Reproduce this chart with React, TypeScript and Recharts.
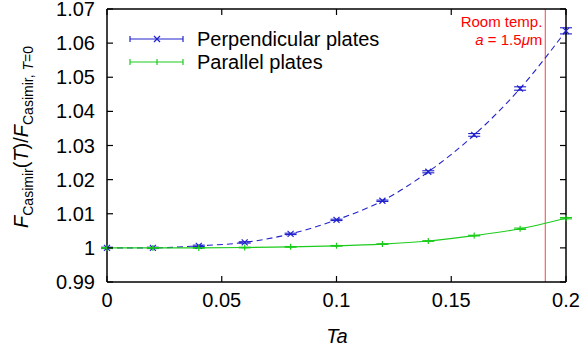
import React from 'react';
import {
  LineChart,
  Line,
  XAxis,
  YAxis,
  ErrorBar,
  ReferenceLine,
  Legend,
  Label,
} from 'recharts';

// Ta values sampled for both geometries
const taValues = [0, 0.02, 0.04, 0.06, 0.08, 0.1, 0.12, 0.14, 0.16, 0.18, 0.2];
const perpendicular = [1.0, 1.0, 1.0006, 1.0016, 1.0041, 1.0082, 1.0138, 1.0223, 1.0331, 1.0467, 1.0636];
const perpendicularErr = [0.0002, 0.0002, 0.0002, 0.0002, 0.0002, 0.0002, 0.0002, 0.0003, 0.0004, 0.0005, 0.0009];
const parallel = [1.0, 1.0, 1.0, 1.0001, 1.0003, 1.0006, 1.0011, 1.002, 1.0036, 1.0056, 1.0087];
const parallelErr = [0.0001, 0.0001, 0.0001, 0.0001, 0.0001, 0.0001, 0.0001, 0.0001, 0.0001, 0.0002, 0.0002];

const xTicks = [0, 0.05, 0.1, 0.15, 0.2];
const yTicks = [0.99, 1, 1.01, 1.02, 1.03, 1.04, 1.05, 1.06, 1.07];
const roomTempTa = 0.191;

const BLUE = '#2222cc';
const GREEN = '#1ccc1c';
const FONT = '"Liberation Sans", Arial, Helvetica, sans-serif';

const data = taValues.map((ta, i) => ({
  ta,
  perp: perpendicular[i],
  perpErr: perpendicularErr[i],
  par: parallel[i],
  parErr: parallelErr[i],
}));

const fmt = (v: number) => String(parseFloat(v.toFixed(2)));

const BottomTick = (props: any) => {
  const { x, y, payload } = props;
  return (
    <g>
      <line x1={x} x2={x} y1={y} y2={y - 6} stroke="#000" strokeWidth={1.2} />
      <text x={x} y={y + 25} textAnchor="middle" fontSize={20} fill="#000" fontFamily={FONT}>
        {fmt(payload.value)}
      </text>
    </g>
  );
};

const TopTick = (props: any) => {
  const { x, y } = props;
  return <line x1={x} x2={x} y1={y} y2={y + 6} stroke="#000" strokeWidth={1.2} />;
};

const LeftTick = (props: any) => {
  const { x, y, payload } = props;
  return (
    <g>
      <line x1={x} x2={x + 6} y1={y} y2={y} stroke="#000" strokeWidth={1.2} />
      <text x={x - 12} y={y} dy="0.35em" textAnchor="end" fontSize={20} fill="#000" fontFamily={FONT}>
        {fmt(payload.value)}
      </text>
    </g>
  );
};

const RightTick = (props: any) => {
  const { x, y } = props;
  return <line x1={x} x2={x - 6} y1={y} y2={y} stroke="#000" strokeWidth={1.2} />;
};

const CrossDot = (props: any) => {
  const { cx, cy } = props;
  if (cx == null || cy == null) return null;
  return (
    <g stroke={BLUE} strokeWidth={1.2}>
      <line x1={cx - 3} y1={cy - 3} x2={cx + 3} y2={cy + 3} />
      <line x1={cx - 3} y1={cy + 3} x2={cx + 3} y2={cy - 3} />
    </g>
  );
};

const PlusDot = (props: any) => {
  const { cx, cy } = props;
  if (cx == null || cy == null) return null;
  return (
    <g stroke={GREEN} strokeWidth={1.2}>
      <line x1={cx - 3} y1={cy} x2={cx + 3} y2={cy} />
      <line x1={cx} y1={cy - 3} x2={cx} y2={cy + 3} />
    </g>
  );
};

const LegendContent = () => {
  const rows = [
    { label: 'Perpendicular plates', color: BLUE, cross: true },
    { label: 'Parallel plates', color: GREEN, cross: false },
  ];
  return (
    <svg width={260} height={50} style={{ overflow: 'visible' }}>
      {rows.map((r, i) => {
        const cy = 14 + i * 23;
        return (
          <g key={r.label}>
            <g stroke={r.color} strokeWidth={1.2}>
              <line x1={10} x2={63} y1={cy} y2={cy} />
              <line x1={10} x2={10} y1={cy - 3} y2={cy + 3} />
              <line x1={63} x2={63} y1={cy - 3} y2={cy + 3} />
              {r.cross ? (
                <>
                  <line x1={34} y1={cy - 3} x2={40} y2={cy + 3} />
                  <line x1={34} y1={cy + 3} x2={40} y2={cy - 3} />
                </>
              ) : (
                <line x1={37} x2={37} y1={cy - 3} y2={cy + 3} />
              )}
            </g>
            <text x={77} y={cy} dy="0.35em" fontSize={20} fill="#000" fontFamily={FONT}>
              {r.label}
            </text>
          </g>
        );
      })}
    </svg>
  );
};

const YTitle = () => (
  <text
    x={28}
    y={137}
    transform="rotate(-90, 28, 137)"
    textAnchor="middle"
    fontSize={20}
    fill="#000"
    fontFamily={FONT}
  >
    <tspan fontStyle="italic">F</tspan>
    <tspan fontSize={14} dy={5}>Casimir</tspan>
    <tspan dy={-5}>(</tspan>
    <tspan fontStyle="italic">T</tspan>
    <tspan>)/</tspan>
    <tspan fontStyle="italic">F</tspan>
    <tspan fontSize={14} dy={5}>Casimir, </tspan>
    <tspan fontSize={14} fontStyle="italic">T</tspan>
    <tspan fontSize={14}>=0</tspan>
  </text>
);

const XTitle = () => (
  <text x={337} y={343} textAnchor="middle" fontSize={20} fontStyle="italic" fill="#000" fontFamily={FONT}>
    Ta
  </text>
);

const RoomTempLabel = (props: any) => {
  const { viewBox } = props;
  const x = viewBox.x - 3;
  const top = viewBox.y;
  return (
    <text textAnchor="end" fontSize={15} fill="#ff0000" fontFamily={FONT}>
      <tspan x={x} y={top + 18}>Room temp.</tspan>
      <tspan x={x} y={top + 36}>
        <tspan fontStyle="italic">a</tspan> = 1.5<tspan fontStyle="italic">μ</tspan>m
      </tspan>
    </text>
  );
};

export default function App() {
  return (
    <div style={{ position: 'absolute', left: 0, top: 0, background: '#fff' }}>
      <LineChart
        width={581}
        height={347}
        data={data}
        margin={{ top: 8, right: 14, bottom: 64, left: 106 }}
        style={{ fontFamily: FONT }}
      >
        <XAxis
          dataKey="ta"
          type="number"
          domain={[0, 0.2]}
          ticks={xTicks}
          height={1}
          tickSize={0}
          tickMargin={0}
          tickLine={false}
          axisLine={{ stroke: '#000', strokeWidth: 1.5 }}
          tick={<BottomTick />}
          interval={0}
        >
          <Label content={<XTitle />} />
        </XAxis>
        <XAxis
          xAxisId="top"
          dataKey="ta"
          orientation="top"
          type="number"
          domain={[0, 0.2]}
          ticks={xTicks}
          height={1}
          tickSize={0}
          tickMargin={0}
          tickLine={false}
          axisLine={{ stroke: '#000', strokeWidth: 1.5 }}
          tick={<TopTick />}
          interval={0}
        />
        <YAxis
          type="number"
          domain={[0.99, 1.07]}
          ticks={yTicks}
          width={1}
          tickSize={0}
          tickMargin={0}
          tickLine={false}
          axisLine={{ stroke: '#000', strokeWidth: 1.5 }}
          tick={<LeftTick />}
          interval={0}
          allowDataOverflow
        >
          <Label content={<YTitle />} />
        </YAxis>
        <YAxis
          yAxisId="right"
          orientation="right"
          type="number"
          domain={[0.99, 1.07]}
          ticks={yTicks}
          width={1}
          tickSize={0}
          tickMargin={0}
          tickLine={false}
          axisLine={{ stroke: '#000', strokeWidth: 1.5 }}
          tick={<RightTick />}
          interval={0}
          allowDataOverflow
        />
        <ReferenceLine x={roomTempTa} stroke="#f87070" strokeWidth={1.3} label={<RoomTempLabel />} />
        {/* invisible series so the mirrored top/right axes get a scale */}
        <Line
          xAxisId="top"
          yAxisId="right"
          dataKey="par"
          stroke="none"
          dot={false}
          activeDot={false}
          legendType="none"
          isAnimationActive={false}
        />
        <Line
          dataKey="perp"
          type="monotone"
          stroke={BLUE}
          strokeWidth={1.1}
          strokeDasharray="6 4"
          dot={<CrossDot />}
          activeDot={false}
          isAnimationActive={false}
        >
          <ErrorBar dataKey="perpErr" width={6} stroke={BLUE} strokeWidth={1.1} direction="y" isAnimationActive={false} />
        </Line>
        <Line
          dataKey="par"
          type="monotone"
          stroke={GREEN}
          strokeWidth={1.1}
          dot={<PlusDot />}
          activeDot={false}
          isAnimationActive={false}
        >
          <ErrorBar dataKey="parErr" width={6} stroke={GREEN} strokeWidth={1.1} direction="y" isAnimationActive={false} />
        </Line>
        <Legend
          layout="horizontal"
          verticalAlign="middle"
          content={<LegendContent />}
          wrapperStyle={{ position: 'absolute', left: 120, top: 25, width: 260, height: 50 }}
        />
      </LineChart>
    </div>
  );
}
